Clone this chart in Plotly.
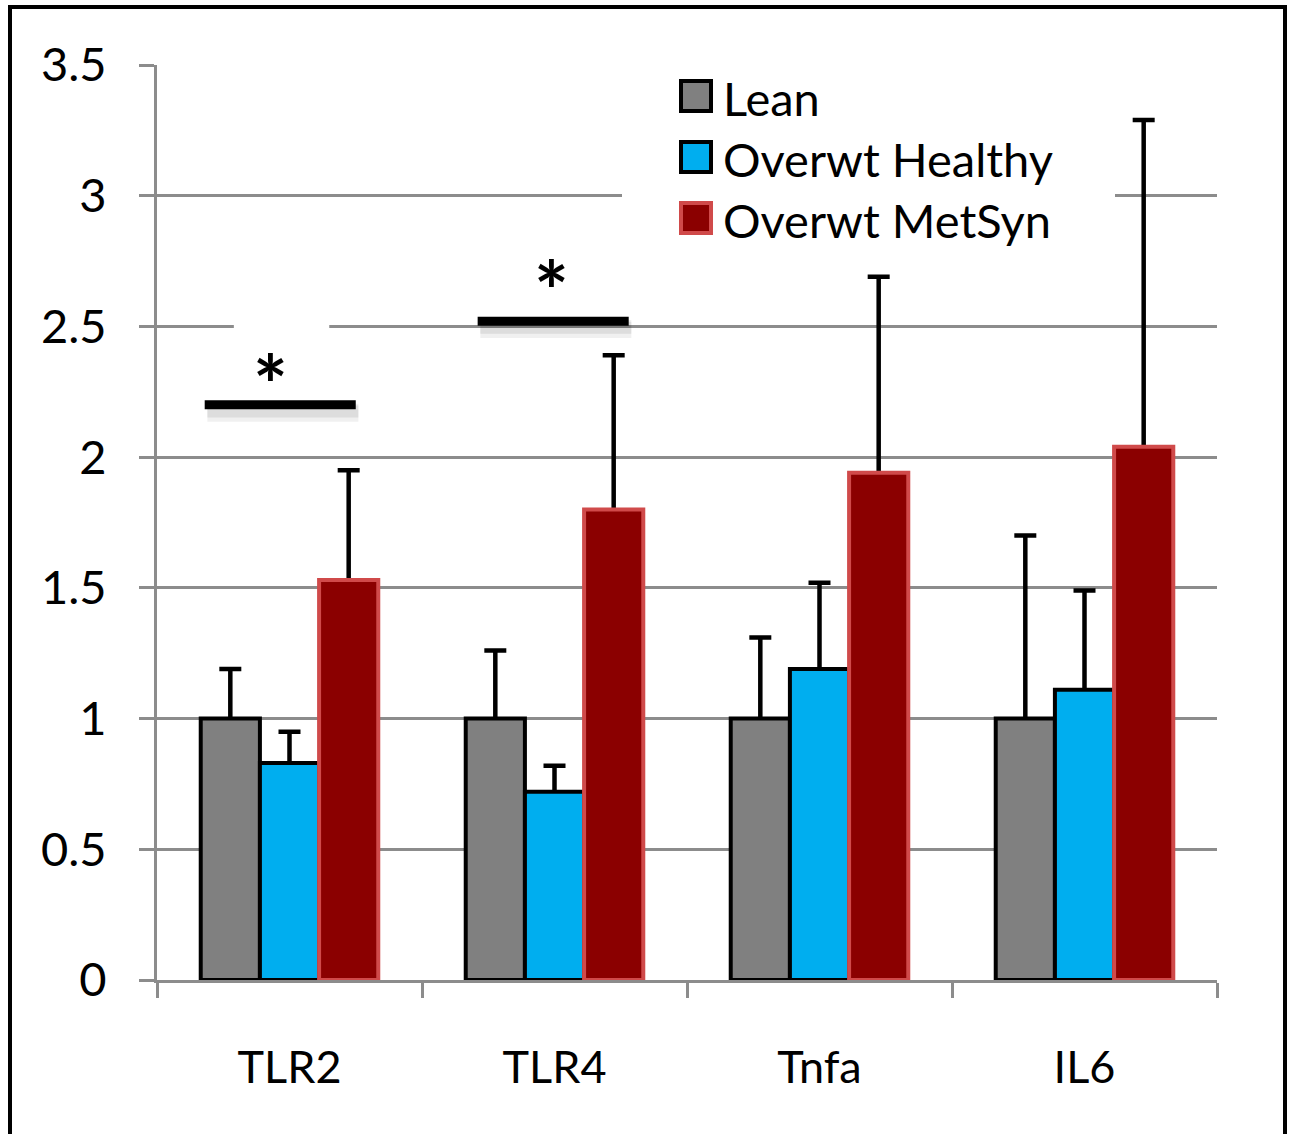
import plotly.graph_objects as go

# ---------------- data ----------------
categories = ["TLR2", "TLR4", "Tnfa", "IL6"]
series_names = ["Lean", "Overwt Healthy", "Overwt MetSyn"]
lean = [1.0, 1.0, 1.0, 1.0]
lean_err = [0.19, 0.26, 0.31, 0.70]
healthy = [0.83, 0.72, 1.19, 1.11]
healthy_err = [0.12, 0.10, 0.33, 0.38]
metsyn = [1.53, 1.80, 1.94, 2.04]
metsyn_err = [0.42, 0.59, 0.75, 1.25]
y_tick_vals = [0, 0.5, 1, 1.5, 2, 2.5, 3, 3.5]
y_tick_text = ["0", "0.5", "1", "1.5", "2", "2.5", "3", "3.5"]

# ---------------- style ----------------
fills = ["#808080", "#00AEEF", "#8B0000"]
edges = ["#000000", "#000000", "#D04A4A"]
grid = "#8C8C8C"
FONT = "Lato"

W, H = 1291, 1134
ML, MR, MT, MB = 157, 74, 65, 154
PW, PH = W - ML - MR, H - MT - MB


def px_x(px):
    return (px - ML) / PW


def px_y(py):
    return (H - MB - py) / PH


values = [lean, healthy, metsyn]
errors = [lean_err, healthy_err, metsyn_err]

fig = go.Figure()

# error bars drawn underneath the bars (main x axis)
for name, vals, errs in zip(series_names, values, errors):
    fig.add_bar(
        x=categories, y=vals, xaxis="x", yaxis="y",
        marker=dict(color="rgba(0,0,0,0)", line=dict(width=0)),
        error_y=dict(type="data", array=errs, symmetric=True,
                     color="black", thickness=4.5, width=11),
        showlegend=False, hoverinfo="skip",
    )

# real bars on an overlaying axis so they cover the lower half of error bars
for name, vals, fill, edge in zip(series_names, values, fills, edges):
    fig.add_bar(
        x=categories, y=vals, xaxis="x2", yaxis="y", name=name,
        marker=dict(color=fill, line=dict(color=edge, width=4)),
        showlegend=False,
    )

shapes = []
annotations = []

# significance bars
sig = [  # (x0, x1, y, star_x, star_y)
    (-0.32, 0.25, 2.20, -0.07, 2.28),
    (0.71, 1.28, 2.52, 0.99, 2.64),
]
# white gap in the 2.5 gridline behind the first asterisk
shapes.append(dict(type="rect", xref="x", yref="y", x0=-0.21, x1=0.15,
                   y0=2.47, y1=2.53, fillcolor="white", line=dict(width=0),
                   layer="above"))
for x0, x1, yv, sx, sy in sig:
    for off, alpha, wid in [(0.03, 0.06, 18), (0.025, 0.08, 12)]:
        shapes.append(dict(type="line", xref="x", yref="y", x0=x0 + 0.01, x1=x1 + 0.01,
                           y0=yv - off, y1=yv - off,
                           line=dict(color=f"rgba(0,0,0,{alpha})", width=wid),
                           layer="above"))
    shapes.append(dict(type="line", xref="x", yref="y", x0=x0, x1=x1,
                       y0=yv, y1=yv, line=dict(color="black", width=9),
                       layer="above"))
    annotations.append(dict(x=sx, y=sy, xref="x", yref="y", text="<b>*</b>",
                            showarrow=False, yanchor="middle",
                            font=dict(family=FONT, size=82, color="black")))

# legend (drawn manually to match the large swatches)
shapes.append(dict(type="rect", xref="paper", yref="paper",
                   x0=px_x(622), x1=px_x(1115), y0=px_y(252), y1=px_y(69),
                   fillcolor="white", line=dict(width=0), layer="above"))
row_y = [96, 157, 218]
for name, fill, edge, ry in zip(series_names, fills, edges, row_y):
    shapes.append(dict(type="rect", xref="paper", yref="paper",
                       x0=px_x(681), x1=px_x(711), y0=px_y(ry + 15), y1=px_y(ry - 15),
                       fillcolor=fill, line=dict(color=edge, width=4),
                       layer="above"))
    annotations.append(dict(x=px_x(721), y=px_y(ry + 2), xref="paper", yref="paper",
                            text=name, showarrow=False, xanchor="left",
                            yanchor="middle",
                            font=dict(family=FONT, size=47, color="black")))

# outer frame
shapes.append(dict(type="rect", xref="paper", yref="paper",
                   x0=px_x(10), x1=px_x(1285), y0=px_y(1145), y1=px_y(7),
                   line=dict(color="black", width=4), fillcolor="rgba(0,0,0,0)",
                   layer="above"))

fig.update_layout(
    width=W, height=H,
    margin=dict(l=ML, r=MR, t=MT, b=MB, pad=0),
    paper_bgcolor="white", plot_bgcolor="white",
    barmode="group", bargap=0.33, bargroupgap=0,
    font=dict(family=FONT, size=44, color="black"),
    showlegend=False,
    shapes=shapes, annotations=annotations,
    xaxis=dict(type="category", range=[-0.5, 3.5], categoryorder="array",
               categoryarray=categories,
               showline=True, linecolor=grid, linewidth=3,
               ticks="outside", tickson="boundaries", ticklen=15,
               tickwidth=3, tickcolor=grid, showgrid=False,
               tickfont=dict(family=FONT, size=45, color="black"),
               ticklabelstandoff=46),
    xaxis2=dict(type="category", range=[-0.5, 3.5], categoryorder="array",
                categoryarray=categories, overlaying="x", anchor="y",
                visible=False),
    yaxis=dict(range=[0, 3.5], tickvals=y_tick_vals, ticktext=y_tick_text,
               showgrid=True, gridcolor=grid, gridwidth=3, zeroline=False,
               showline=True, linecolor=grid, linewidth=3,
               ticks="outside", ticklen=15, tickwidth=3, tickcolor=grid,
               tickfont=dict(family=FONT, size=47, color="black"),
               ticklabelstandoff=23),
)

fig.write_html("out.html", config={"displayModeBar": False},
               post_script="document.body.style.margin='0';")
